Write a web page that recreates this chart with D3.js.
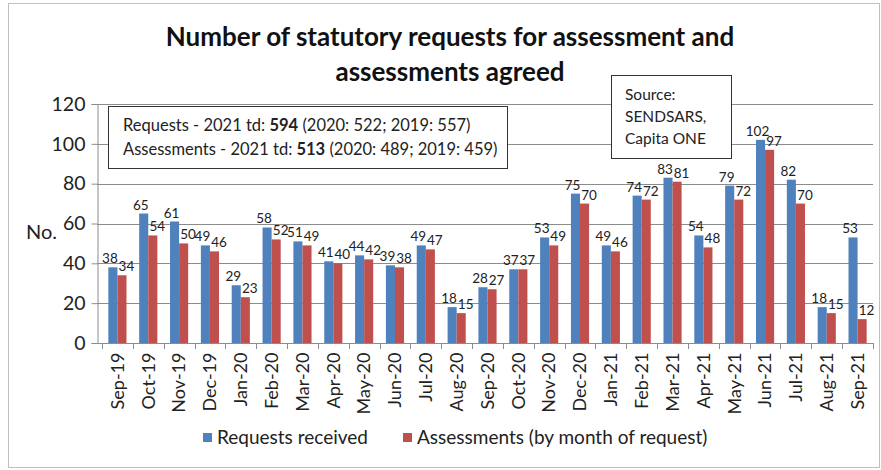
<!DOCTYPE html>
<html>
<head>
<meta charset="utf-8">
<script src="https://cdn.jsdelivr.net/npm/d3@7"></script>
<style>
  body { margin: 0; background: #fff; }
  svg { font-family: Lato, "Open Sans", sans-serif; }
</style>
</head>
<body>
<svg id="chart" width="881" height="470"></svg>
<script>
const months = ['Sep-19', 'Oct-19', 'Nov-19', 'Dec-19', 'Jan-20', 'Feb-20', 'Mar-20', 'Apr-20', 'May-20',
  'Jun-20', 'Jul-20', 'Aug-20', 'Sep-20', 'Oct-20', 'Nov-20', 'Dec-20', 'Jan-21', 'Feb-21', 'Mar-21',
  'Apr-21', 'May-21', 'Jun-21', 'Jul-21', 'Aug-21', 'Sep-21'];
const requests = [38, 65, 61, 49, 29, 58, 51, 41, 44, 39, 49, 18, 28, 37, 53, 75, 49, 74, 83, 54, 79, 102, 82, 18, 53];
const assessments = [34, 54, 50, 46, 23, 52, 49, 40, 42, 38, 47, 15, 27, 37, 49, 70, 46, 72, 81, 48, 72, 97, 70, 15, 12];
const yTicks = [0, 20, 40, 60, 80, 100, 120];
const seriesNames = ['Requests received', 'Assessments (by month of request)'];
const colors = ['#4F81BD', '#C0504D'];

const svg = d3.select('#chart');

// outer frame
svg.append('rect').attr('x', 8.5).attr('y', 3.5).attr('width', 871).attr('height', 464)
  .attr('fill', 'none').attr('stroke', '#bfbfbf');

const margin = { left: 97, right: 873, top: 104, bottom: 343 };

const x = d3.scaleBand().domain(months).range([margin.left + 5, margin.right]).paddingInner(0).paddingOuter(0);
const xs = d3.scaleBand().domain([0, 1]).range([0, x.bandwidth()]).paddingInner(0).paddingOuter(0.7);
const y = d3.scaleLinear().domain([0, 120]).range([margin.bottom, margin.top]);

// gridlines
svg.append('g').selectAll('line').data(yTicks.slice(1)).enter().append('line')
  .attr('x1', margin.left).attr('x2', margin.right)
  .attr('y1', d => Math.round(y(d)) + 0.5).attr('y2', d => Math.round(y(d)) + 0.5)
  .attr('stroke', '#8c8c8c').attr('stroke-width', 1);

// y axis
const yAxis = svg.append('g').attr('transform', `translate(${margin.left + 0.5},0)`)
  .call(d3.axisLeft(y).tickValues(yTicks).tickSize(6).tickPadding(6));
yAxis.select('.domain').attr('stroke', '#8c8c8c');
yAxis.selectAll('.tick line').attr('stroke', '#8c8c8c');
yAxis.selectAll('text').attr('font-size', 19.5).attr('fill', '#222').style('font-family', 'Lato, sans-serif');

// bars
const groups = svg.append('g').selectAll('g').data(months).enter().append('g')
  .attr('transform', d => `translate(${x(d)},0)`);
[requests, assessments].forEach((vals, si) => {
  groups.append('rect')
    .attr('x', xs(si)).attr('width', xs.bandwidth())
    .attr('y', (d, i) => y(vals[i])).attr('height', (d, i) => y(0) - y(vals[i]))
    .attr('fill', colors[si]);
  groups.append('text')
    .attr('x', xs(si) + xs.bandwidth() / 2 + (si === 0 ? -3 : 4.5))
    .attr('y', (d, i) => y(vals[i]) - 4)
    .attr('text-anchor', 'middle').attr('font-size', 13.5).attr('fill', '#222')
    .text((d, i) => vals[i]);
});

// x axis
const xAxis = svg.append('g').attr('transform', `translate(0,${Math.round(y(0)) + 0.5})`)
  .call(d3.axisBottom(x).tickSize(0).tickPadding(8));
xAxis.select('.domain').remove();
svg.append('line').attr('x1', margin.left).attr('x2', margin.right)
  .attr('y1', Math.round(y(0)) + 0.5).attr('y2', Math.round(y(0)) + 0.5).attr('stroke', '#8c8c8c');
svg.append('g').selectAll('line').data(months.concat(['end'])).enter().append('line')
  .attr('x1', (d, i) => Math.round(x.range()[0] + i * x.step()) + 0.5)
  .attr('x2', (d, i) => Math.round(x.range()[0] + i * x.step()) + 0.5)
  .attr('y1', y(0)).attr('y2', y(0) + 6).attr('stroke', '#8c8c8c');
xAxis.selectAll('text')
  .attr('transform', 'rotate(-90)').attr('text-anchor', 'end')
  .attr('x', -9).attr('y', 0).attr('dy', '0.35em')
  .attr('font-size', 18).attr('fill', '#222').style('font-family', 'Lato, sans-serif');

// y label
svg.append('text').attr('x', 26).attr('y', 239).attr('font-size', 20).attr('fill', '#222').text('No.');

// title
const title = svg.append('text').attr('text-anchor', 'middle').attr('font-size', 26)
  .attr('font-weight', 'bold').attr('fill', '#111');
title.append('tspan').attr('x', 450).attr('y', 46).text('Number of statutory requests for assessment and');
title.append('tspan').attr('x', 450).attr('y', 81).text('assessments agreed');

// note box
svg.append('rect').attr('x', 108.5).attr('y', 106.5).attr('width', 399).attr('height', 62)
  .attr('fill', '#fff').attr('stroke', '#333');
const note = [
  ['Requests - 2021 td: ', '594', ' (2020: 522; 2019: 557)'],
  ['Assessments - 2021 td: ', '513', ' (2020: 489; 2019: 459)']
];
note.forEach((parts, i) => {
  const t = svg.append('text').attr('x', 123).attr('y', 131 + i * 24).attr('font-size', 16.5).attr('fill', '#222');
  t.append('tspan').text(parts[0]);
  t.append('tspan').attr('font-weight', 'bold').text(parts[1]);
  t.append('tspan').text(parts[2]);
});

// source box
svg.append('rect').attr('x', 611.5).attr('y', 75.5).attr('width', 120).attr('height', 83)
  .attr('fill', '#fff').attr('stroke', '#333');
['Source:', 'SENDSARS,', 'Capita ONE'].forEach((s, i) => {
  svg.append('text').attr('x', 625).attr('y', 100 + i * 22).attr('font-size', 15.5).attr('fill', '#222').text(s);
});

// legend
const legendX = [203, 403];
seriesNames.forEach((name, i) => {
  svg.append('rect').attr('x', legendX[i]).attr('y', 433).attr('width', 9).attr('height', 9).attr('fill', colors[i]);
  svg.append('text').attr('x', legendX[i] + 14).attr('y', 444).attr('font-size', 19).attr('fill', '#222').text(name);
});
</script>
</body>
</html>
